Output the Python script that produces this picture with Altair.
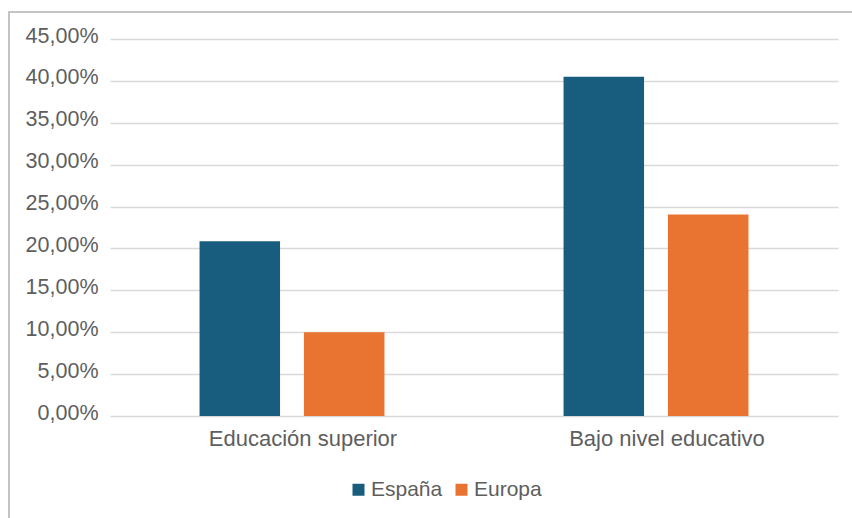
import altair as alt
import pandas as pd

categories = ["Educación superior", "Bajo nivel educativo"]
series = ["España", "Europa"]
espana = [0.2085, 0.405]
europa = [0.100, 0.2405]
y_ticks = [0.0, 0.05, 0.10, 0.15, 0.20, 0.25, 0.30, 0.35, 0.40, 0.45]
colors = ["#185c7e", "#e97431"]

rows = []
for c, v in zip(categories, espana):
    rows.append({"categoria": c, "serie": series[0], "valor": v})
for c, v in zip(categories, europa):
    rows.append({"categoria": c, "serie": series[1], "valor": v})
df = pd.DataFrame(rows)

FONT = "Liberation Sans"
TXT = "#5e5e5e"

bars = alt.Chart(df).mark_bar().encode(
    x=alt.X(
        "categoria:N",
        sort=categories,
        scale=alt.Scale(paddingInner=0.492, paddingOuter=0.246),
        axis=alt.Axis(
            title=None, labelAngle=0, domain=False, ticks=False,
            labelFont=FONT, labelFontSize=22, labelColor=TXT, labelPadding=12,
            labelLimit=500, labelOffset=11,
        ),
    ),
    xOffset=alt.XOffset(
        "serie:N", sort=series, scale=alt.Scale(paddingInner=0.229, paddingOuter=0)
    ),
    y=alt.Y(
        "valor:Q",
        scale=alt.Scale(domain=[0, 0.45], nice=False),
        axis=alt.Axis(
            title=None, values=y_ticks, domain=False, ticks=False,
            labelExpr="replace(format(datum.value, '.2%'), '.', ',')",
            labelFont=FONT, labelFontSize=21.5, labelColor=TXT, labelPadding=12,
            labelOffset=-3,
            gridColor="#d9d9d9", gridWidth=1.3,
        ),
    ),
    color=alt.Color(
        "serie:N",
        sort=series,
        scale=alt.Scale(domain=series, range=colors),
        legend=alt.Legend(
            title=None, orient="none", direction="horizontal",
            legendX=238, legendY=440,
            symbolType="square", symbolSize=144, symbolStrokeWidth=0,
            labelFont=FONT, labelFontSize=21, labelColor=TXT,
            labelOffset=2, columnPadding=8,
        ),
    ),
)

frame = alt.Chart(pd.DataFrame({"a": [0]})).mark_rect(
    fillOpacity=0, stroke="#c4c4c4", strokeWidth=2
).encode(
    x=alt.value(-101), x2=alt.value(780), y=alt.value(-27), y2=alt.value(520)
)

chart = alt.layer(frame, bars).properties(
    width=728, height=377,
    padding={"left": 110, "top": 39, "right": 14, "bottom": 102},
    autosize=alt.AutoSizeParams(type="none"),
    background="white",
).configure_view(strokeOpacity=0)

chart.save("out.html", embed_options={"renderer": "svg", "actions": False})
